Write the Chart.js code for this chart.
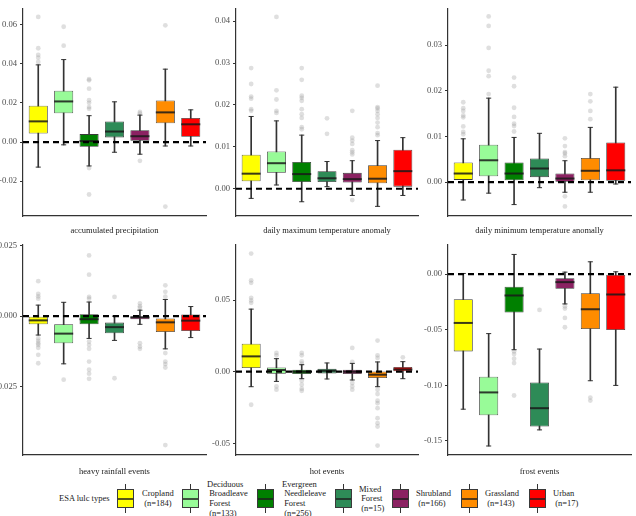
<!DOCTYPE html>
<html lang="en">
<head>
  <meta charset="UTF-8" />
  <title>ESA lulc boxplots</title>
  <script src="https://cdn.jsdelivr.net/npm/chart.js@4.4.1/dist/chart.umd.min.js"></script>
  <style>
    body {
      margin: 0;
      background: #ffffff;
      width: 636px;
      height: 516px;
      overflow: hidden;
      position: relative;
      font-family: 'Liberation Serif', 'DejaVu Serif', serif;
    }
    canvas { position: absolute; }
    .legend-title {
      position: absolute;
      left: 59px;
      top: 493px;
      font-size: 8.5px;
      color: #1a1a1a;
      white-space: nowrap;
    }
    .key { position: absolute; width: 17px; height: 29px; }
    .key .whisker {
      position: absolute;
      left: 8px;
      width: 1px;
      top: 0;
      height: 29px;
      background: #333;
    }
    .key .box {
      position: absolute;
      left: 0;
      top: 5px;
      width: 15.4px;
      height: 17.4px;
      border: 0.8px solid #3a3a3a;
    }
    .key .median {
      position: absolute;
      left: 0;
      top: 7.8px;
      width: 100%;
      height: 1.8px;
      background: rgba(30, 30, 30, 0.75);
    }
    .key-label {
      position: absolute;
      font-size: 8.5px;
      line-height: 9.6px;
      color: #1a1a1a;
      white-space: pre;
    }
  </style>
</head>
<body>
  <canvas id="p1" width="210" height="236" style="left:0;top:0"></canvas>
  <canvas id="p2" width="212" height="236" style="left:210px;top:0"></canvas>
  <canvas id="p3" width="214" height="236" style="left:422px;top:0"></canvas>
  <canvas id="p4" width="210" height="241" style="left:0;top:236px"></canvas>
  <canvas id="p5" width="212" height="241" style="left:210px;top:236px"></canvas>
  <canvas id="p6" width="214" height="241" style="left:422px;top:236px"></canvas>
  <div class="legend-title">ESA lulc types</div>
  <div id="legend"></div>

  <script>
    // categories
    const lulcTypes = ['Cropland', 'Deciduous Broadleave Forest', 'Evergreen Needleleave Forest',
                       'Mixed Forest', 'Shrubland', 'Grassland', 'Urban'];
    const lulcCounts = [184, 133, 256, 15, 166, 143, 17];
    const lulcColors = ['#FFFF00', '#98FB98', '#008000', '#2E8B57', '#8B2262', '#FF8C00', '#FF0000'];

    // box stats per type: [lower whisker, Q1, median, Q3, upper whisker]
    const precipStats = [
      [-0.0128, 0.0044, 0.0106, 0.0186, 0.0395],
      [-0.0014, 0.0147, 0.0208, 0.0263, 0.0422],
      [-0.0122, -0.0024, 0.0005, 0.0041, 0.0135],
      [-0.0052, 0.0024, 0.0054, 0.0105, 0.0206],
      [-0.0062, 0.0007, 0.0030, 0.0061, 0.0138],
      [-0.0020, 0.0096, 0.0152, 0.0213, 0.0373],
      [-0.0020, 0.0027, 0.0091, 0.0123, 0.0165]
    ];
    const precipOutliers = [
      [0.064, 0.048, 0.0446, 0.0432, 0.041],
      [0.059, 0.0493],
      [0.0322, 0.0316, 0.0273, 0.0214, 0.0201, 0.0179, 0.017, -0.0133, -0.0268],
      [],
      [0.0154, 0.0147, -0.0096],
      [0.0597, -0.033],
      []
    ];

    const tmaxStats = [
      [-0.0023, 0.0018, 0.0036, 0.0081, 0.01725],
      [0.0009, 0.0038, 0.0061, 0.0089, 0.0162],
      [-0.0031, 0.0016, 0.0035, 0.0064, 0.0128],
      [0.0005, 0.0016, 0.0025, 0.0042, 0.0065],
      [-0.0016, 0.0015, 0.0023, 0.0038, 0.0067],
      [-0.0042, 0.0013, 0.0024, 0.0056, 0.0115],
      [-0.0016, 0.0005, 0.0042, 0.0093, 0.0122]
    ];
    const tmaxOutliers = [
      [0.0288, 0.025, 0.022, 0.0215, 0.019, 0.0186],
      [0.041, 0.0235, 0.0213, 0.0186, 0.0181],
      [0.0288, 0.026, 0.0222, 0.0217, 0.021, 0.019, 0.0178, 0.0169, 0.0147, 0.0142],
      [0.0168, 0.0131],
      [0.0186, 0.0122, 0.0115, 0.0107, 0.0092, 0.0087, 0.0082, -0.0027],
      [0.0246, 0.0195, 0.0192, 0.0186, 0.0178, 0.0169, 0.0158, 0.0147, 0.0133, 0.0128],
      []
    ];

    const tminStats = [
      [-0.0039, 0.0005, 0.0019, 0.0043, 0.0095],
      [-0.0024, 0.0013, 0.0048, 0.0082, 0.0184],
      [-0.0049, 0.0004, 0.0019, 0.0043, 0.0098],
      [-0.0012, 0.0011, 0.0030, 0.0052, 0.0107],
      [-0.0022, 0.0001, 0.0008, 0.0019, 0.0047],
      [-0.0022, 0.0004, 0.0025, 0.0053, 0.0120],
      [-0.0004, 0.0003, 0.0026, 0.0087, 0.0208]
    ];
    const tminOutliers = [
      [0.0175, 0.0162, 0.0156, 0.0146, 0.0142, 0.0122, 0.011, 0.0105],
      [0.0363, 0.0342, 0.0294, 0.0244, 0.0232, 0.0193],
      [0.0229, 0.021, 0.0163, 0.0143, 0.0128, 0.0123, 0.0111],
      [],
      [0.0096, 0.0079, 0.0066, 0.0063, 0.0057, -0.0031, -0.0053],
      [0.0193, 0.0177, 0.0156, 0.0138],
      []
    ];

    const rainStats = [
      [-0.0067, -0.0029, -0.0015, 0.0000, 0.0039],
      [-0.0169, -0.0096, -0.0062, -0.0029, 0.0049],
      [-0.0079, -0.0029, -0.0011, 0.0007, 0.0050],
      [-0.0086, -0.0061, -0.0039, -0.0023, 0.0000],
      [-0.0029, -0.0011, -0.0004, 0.0000, 0.0021],
      [-0.0116, -0.0056, -0.0022, -0.0008, 0.0059],
      [-0.0076, -0.0053, -0.0016, 0.0006, 0.0034]
    ];
    const rainOutliers = [
      [0.0124, 0.0079, 0.007, 0.0062, -0.0079, -0.0088, -0.0096, -0.0102, -0.0112, -0.0137, -0.0167],
      [-0.0225],
      [0.0215, 0.0147, 0.0068, 0.0062, -0.009, -0.0102, -0.0116, -0.0161, -0.019, -0.0204, -0.0222],
      [0.0068, -0.022],
      [0.0045, 0.0035, 0.0029, -0.0096, -0.0108, -0.0116],
      [0.0109, 0.0086, 0.0069, -0.0131, -0.0161, -0.017, -0.0182, -0.0457],
      []
    ];

    const hotStats = [
      [-0.0105, 0.0026, 0.0107, 0.0196, 0.0437],
      [-0.0068, -0.0014, 0.0012, 0.0030, 0.0091],
      [-0.0049, -0.0016, 0.0000, 0.0014, 0.0049],
      [-0.0051, -0.0012, 0.0007, 0.0021, 0.0061],
      [-0.0058, -0.0016, 0.0000, 0.0014, 0.0058],
      [-0.0105, -0.0044, -0.0021, 0.0002, 0.0068],
      [-0.0049, 0.0000, 0.0016, 0.0033, 0.0070]
    ];
    const hotOutliers = [
      [0.0825, 0.0638, 0.0621, 0.0516, 0.0498, 0.0481, -0.0231],
      [0.0131, 0.0114, -0.0103, -0.0126],
      [0.0131, 0.0114, 0.0072, 0.0056, -0.0063, -0.0091, -0.0119, -0.0133],
      [],
      [0.0166, 0.0068, -0.0079, -0.0103, -0.0126],
      [0.0217, 0.0114, 0.0096, -0.0126, -0.0156, -0.0203, -0.022, -0.0255, -0.0325, -0.036, -0.0383, -0.0516],
      [0.010]
    ];

    const frostStats = [
      [-0.1215, -0.0695, -0.0439, -0.0226, 0.0006],
      [-0.1546, -0.1269, -0.1064, -0.0923, -0.0535],
      [-0.0680, -0.0346, -0.0192, -0.0114, 0.0177],
      [-0.1401, -0.1371, -0.1206, -0.0974, -0.0674],
      [-0.0268, -0.0132, -0.0072, -0.0036, 0.0018],
      [-0.0959, -0.0493, -0.0316, -0.0171, 0.0111],
      [-0.1001, -0.0502, -0.0183, 0.0000, 0.0021]
    ];
    const frostOutliers = [
      [],
      [],
      [-0.0695, -0.0719, -0.0761, -0.08, -0.1092],
      [-0.0003, -0.0322],
      [-0.0289, -0.031, -0.0394, -0.0478],
      [-0.111, -0.1137],
      []
    ];

    // y tick labels per panel
    const precipTicks = [-0.02, 0, 0.02, 0.04, 0.06];
    const tmaxTicks = [0, 0.01, 0.02, 0.03, 0.04];
    const tminTicks = [0, 0.01, 0.02, 0.03];
    const rainTicks = [-0.025, 0, 0.025];
    const hotTicks = [-0.05, 0, 0.05];
    const frostTicks = [-0.15, -0.10, -0.05, 0];

    const BOX_W = 0.75;
    const CAP_W = 0.2;
    const FONT = "'Liberation Serif', 'DejaVu Serif', serif";

    // medians, whisker caps and the dashed zero line
    const boxExtras = {
      id: 'boxExtras',
      afterDatasetsDraw(chart, args, opts) {
        const { ctx, chartArea, scales: { x, y } } = chart;
        const half = x.getPixelForValue(1 + BOX_W / 2) - x.getPixelForValue(1);
        const cap = x.getPixelForValue(1 + CAP_W / 2) - x.getPixelForValue(1);
        ctx.save();
        opts.stats.forEach((s, i) => {
          const cx = x.getPixelForValue(i + 1);
          ctx.strokeStyle = '#333';
          ctx.lineWidth = 1;
          [s[0], s[4]].forEach(v => {
            const py = y.getPixelForValue(v);
            ctx.beginPath();
            ctx.moveTo(cx - cap, py);
            ctx.lineTo(cx + cap, py);
            ctx.stroke();
          });
          const my = y.getPixelForValue(s[2]);
          ctx.strokeStyle = 'rgba(25,25,25,0.85)';
          ctx.lineWidth = 2;
          ctx.beginPath();
          ctx.moveTo(cx - half, my);
          ctx.lineTo(cx + half, my);
          ctx.stroke();
        });
        const zy = y.getPixelForValue(0);
        ctx.setLineDash([6, 4]);
        ctx.strokeStyle = '#000';
        ctx.lineWidth = 2.2;
        ctx.beginPath();
        ctx.moveTo(chartArea.left, zy);
        ctx.lineTo(chartArea.right, zy);
        ctx.stroke();
        ctx.restore();
      }
    };

    function makePanel(id, title, stats, outliers, ticks, decimals, yMin, yMax, layout) {
      const outlierPts = [];
      outliers.forEach((list, i) => list.forEach(v => outlierPts.push({ x: i + 1, y: v })));

      new Chart(document.getElementById(id), {
        type: 'bar',
        data: {
          datasets: [
            {
              type: 'scatter',
              data: outlierPts,
              pointRadius: 2.4,
              pointBackgroundColor: 'rgba(150,150,150,0.3)',
              pointBorderWidth: 0,
              order: 4
            },
            {
              data: stats.map((s, i) => ({ x: i + 1, y: [s[0], s[4]] })),
              backgroundColor: '#333',
              barThickness: 1,
              order: 3
            },
            {
              data: stats.map((s, i) => ({ x: i + 1, y: [s[1], s[3]] })),
              backgroundColor: lulcColors,
              borderColor: '#3a3a3a',
              borderWidth: 0.8,
              borderSkipped: false,
              categoryPercentage: 1,
              barPercentage: BOX_W,
              order: 2
            }
          ]
        },
        options: {
          responsive: false,
          animation: false,
          grouped: false,
          layout: { padding: { top: layout.top, right: layout.right, left: 0, bottom: 0 } },
          plugins: {
            legend: { display: false },
            tooltip: { enabled: false },
            boxExtras: { stats: stats }
          },
          scales: {
            x: {
              type: 'linear',
              min: 0.4,
              max: 7.6,
              offset: false,
              grid: { display: false, offset: false },
              border: { display: true, color: '#333', width: 1.2 },
              ticks: { display: false },
              title: {
                display: true,
                text: title,
                color: '#1a1a1a',
                font: { family: FONT, size: 8.5 },
                padding: 0
              },
              afterFit: s => { s.height = layout.xh; }
            },
            y: {
              type: 'linear',
              min: yMin,
              max: yMax,
              grid: { display: true, drawOnChartArea: false, drawTicks: true, tickLength: 3, color: '#333' },
              border: { display: true, color: '#333', width: 1.2 },
              afterBuildTicks: s => { s.ticks = ticks.map(v => ({ value: v })); },
              ticks: {
                color: '#4d4d4d',
                padding: 3,
                font: { family: FONT, size: 8.6 },
                callback: v => v.toFixed(decimals)
              },
              afterFit: s => { s.width = layout.yw; }
            }
          }
        },
        plugins: [boxExtras]
      });
    }

    makePanel('p1', 'accumulated precipitation', precipStats, precipOutliers, precipTicks, 2,
      -0.0378, 0.0685, { top: 6, right: 3, xh: 20, yw: 23 });
    makePanel('p2', 'daily maximum temperature anomaly', tmaxStats, tmaxOutliers, tmaxTicks, 2,
      -0.0065, 0.0431, { top: 6, right: 3, xh: 20, yw: 26 });
    makePanel('p3', 'daily minimum temperature anomally', tminStats, tminOutliers, tminTicks, 2,
      -0.0074, 0.0381, { top: 6, right: 5, xh: 20, yw: 26 });
    makePanel('p4', 'heavy rainfall events', rainStats, rainOutliers, rainTicks, 3,
      -0.0492, 0.0252, { top: 9, right: 3, xh: 22, yw: 23 });
    makePanel('p5', 'hot events', hotStats, hotOutliers, hotTicks, 2,
      -0.0582, 0.0885, { top: 9, right: 3, xh: 22, yw: 26 });
    makePanel('p6', 'frost events', frostStats, frostOutliers, frostTicks, 2,
      -0.1627, 0.0262, { top: 9, right: 5, xh: 22, yw: 26 });

    // legend: boxplot key + label for each type
    const keyLeft = [117, 182, 257, 335, 392, 461, 529];
    const labelLeft = [142, 207, 282, 359, 416, 485, 553];
    const legend = document.getElementById('legend');
    lulcTypes.forEach((name, i) => {
      const key = document.createElement('div');
      key.className = 'key';
      key.style.left = keyLeft[i] + 'px';
      key.style.top = '484px';
      key.innerHTML = '<div class="whisker"></div><div class="box" style="background:' + lulcColors[i] +
        '"><div class="median"></div></div>';
      legend.appendChild(key);

      const lines = name.split(' ').map((w, j) => (j === 0 ? w : ' ' + w));
      lines.push(' (n=' + lulcCounts[i] + ')');
      const label = document.createElement('div');
      label.className = 'key-label';
      label.style.left = labelLeft[i] + 'px';
      label.style.top = (499 - lines.length * 9.6 / 2) + 'px';
      label.textContent = lines.join('\n');
      legend.appendChild(label);
    });
  </script>
</body>
</html>
